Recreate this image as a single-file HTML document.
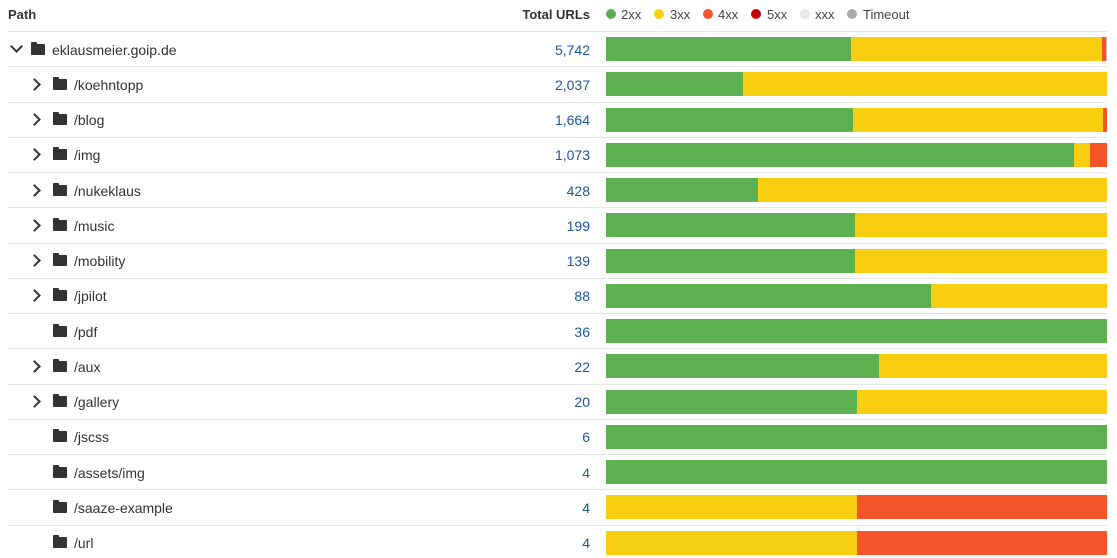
<!DOCTYPE html>
<html><head><meta charset="utf-8"><style>
body{margin:0;width:1117px;height:558px;background:#fff;font-family:"Liberation Sans",sans-serif;position:relative;overflow:hidden;color:#333}
.h{position:absolute;top:7px;font-size:13px;font-weight:bold;color:#333}
.lg{position:absolute;top:7px;font-size:13px;color:#444}
.dot{position:absolute;top:9px;width:10px;height:10px;border-radius:50%}
.line{position:absolute;left:8px;width:1099px;height:1px;background:#e6e6e6}
.t{position:absolute;font-size:14px;color:#333}
.n{position:absolute;font-size:14px;color:#1d5699;right:527px;text-align:right}
.bar{position:absolute;left:606px;width:501px;height:24px;display:flex}
.bar div{height:100%}
.g{background:#5cb050}.y{background:#f8cf10}.r{background:#f5532a}
.fold{position:absolute;width:14px;height:11px;background:#333;border-radius:1px}
.fold:before{content:"";position:absolute;left:0;top:-2px;width:6px;height:3px;background:#333;border-radius:1px 1px 0 0}
.chev{position:absolute;width:7px;height:7px;border-right:2px solid #333;border-bottom:2px solid #333}
</style></head><body>
<div class="h" style="left:8px">Path</div>
<div class="h" style="right:527px">Total URLs</div>
<div class="dot" style="left:606px;background:#5cb050"></div><div class="lg" style="left:621px">2xx</div>
<div class="dot" style="left:654px;background:#f8cf10"></div><div class="lg" style="left:670px">3xx</div>
<div class="dot" style="left:703px;background:#f5532a"></div><div class="lg" style="left:718px">4xx</div>
<div class="dot" style="left:751px;background:#c00000"></div><div class="lg" style="left:767px">5xx</div>
<div class="dot" style="left:800px;background:#e8e8e8"></div><div class="lg" style="left:815px">xxx</div>
<div class="dot" style="left:847px;background:#aaa"></div><div class="lg" style="left:863px">Timeout</div>
<div id="rows"></div>
<script>
var d=[["eklausmeier.goip.de","5,742",0,1,[[245,"g"],[251,"y"],[4,"r"],[1,"x"]]],
["/koehntopp","2,037",1,1,[[137,"g"],[364,"y"]]],
["/blog","1,664",1,1,[[247,"g"],[250,"y"],[4,"r"]]],
["/img","1,073",1,1,[[468,"g"],[16,"y"],[17,"r"]]],
["/nukeklaus","428",1,1,[[152,"g"],[349,"y"]]],
["/music","199",1,1,[[249,"g"],[252,"y"]]],
["/mobility","139",1,1,[[249,"g"],[252,"y"]]],
["/jpilot","88",1,1,[[325,"g"],[176,"y"]]],
["/pdf","36",1,0,[[501,"g"]]],
["/aux","22",1,1,[[273,"g"],[228,"y"]]],
["/gallery","20",1,1,[[251,"g"],[250,"y"]]],
["/jscss","6",1,0,[[501,"g"]]],
["/assets/img","4",1,0,[[501,"g"]]],
["/saaze-example","4",1,0,[[251,"y"],[250,"r"]]],
["/url","4",1,0,[[251,"y"],[250,"r"]]]];
var h="";
d.forEach(function(r,i){var top=31+i*35.25,c=top+17.5;
h+='<div class="line" style="top:'+Math.round(top)+'px"></div>';
var ind=r[2]?22:0;
if(r[3]){ if(i==0) h+='<div class="chev" style="left:'+(12+ind)+'px;top:'+(c-7)+'px;transform:rotate(45deg)"></div>';
else h+='<div class="chev" style="left:'+(30)+'px;top:'+(c-4)+'px;transform:rotate(-45deg)"></div>';}
h+='<div class="fold" style="left:'+(31+ind)+'px;top:'+(c-5)+'px"></div>';
h+='<div class="t" style="left:'+(52+ind)+'px;top:'+(c-7)+'px">'+r[0]+'</div>';
h+='<div class="n" style="top:'+(c-7)+'px">'+r[1]+'</div>';
h+='<div class="bar" style="top:'+(top+6)+'px">';
r[4].forEach(function(s){h+='<div class="'+s[1]+'" style="width:'+s[0]+'px;'+(s[1]=="x"?'background:#bbb':'')+'"></div>'});
h+='</div>';});
document.getElementById("rows").innerHTML=h;
</script>
</body></html>
